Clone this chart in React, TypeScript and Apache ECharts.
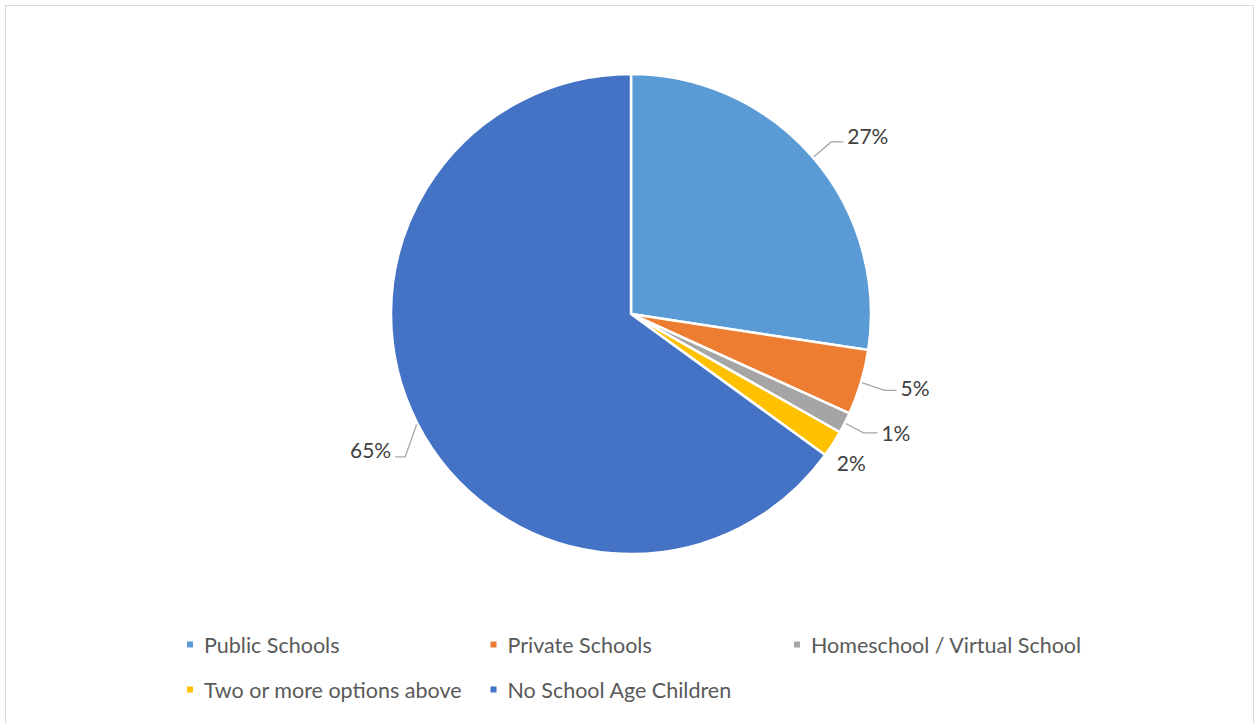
import React, { useEffect, useRef } from "react";
import * as echarts from "echarts";

const categories = [
  "Public Schools",
  "Private Schools",
  "Homeschool / Virtual School",
  "Two or more options above",
  "No School Age Children",
];
const values = [27.4, 4.4, 1.4, 1.8, 65.0];
const labels = ["27%", "5%", "1%", "2%", "65%"];
const colors = ["#5B9BD5", "#ED7D31", "#A5A5A5", "#FFC000", "#4472C4"];
const lineLengths = [
  [24, 12],
  [28, 12],
  [22, 14],
  [0, 0],
  [20, 10],
];
const labelShiftY = [-6, -3, 0, 7, 0];

export default function App() {
  const ref = useRef<HTMLDivElement>(null);
  useEffect(() => {
    if (!ref.current) return;
    const chart = echarts.init(ref.current, null, { renderer: "svg" });
    chart.setOption({
      animation: false,
      backgroundColor: "#ffffff",
      color: colors,
      graphic: [
        {
          type: "rect",
          shape: { x: 5.5, y: 5.5, width: 1248, height: 740 },
          style: { fill: "none", stroke: "#D9D9D9", lineWidth: 1 },
          silent: true,
        },
      ],
      legend: {
        left: 185,
        top: 622,
        width: 935,
        padding: 0,
        itemWidth: 8,
        itemHeight: 8,
        itemGap: 0,
        icon: "rect",
        data: categories,
        textStyle: {
          fontFamily: "Lato",
          fontSize: 21.5,
          color: "#595959",
          width: 284.5,
          lineHeight: 45,
          padding: [0, 0, 0, 5],
        },
      },
      series: [
        {
          type: "pie",
          center: [631, 314],
          radius: [0, 240],
          startAngle: 90,
          clockwise: true,
          avoidLabelOverlap: true,
          itemStyle: { borderColor: "#ffffff", borderWidth: 2.5 },
          label: {
            show: true,
            position: "outside",
            fontFamily: "Lato",
            fontSize: 21,
            color: "#404040",
            formatter: (p: any) => labels[p.dataIndex],
            distanceToLabelLine: 4,
          },
          labelLine: {
            show: true,
            lineStyle: { color: "#A6A6A6", width: 1.3 },
          },
          labelLayout: (params: any) => {
            const i = params.dataIndex;
            const pts = params.labelLinePoints;
            if (i === 3 || !pts) return { dy: labelShiftY[i] };
            if (i === 4) {
              const p0 = pts[0];
              const p1 = [p0[0] - 12, p0[1] + 34];
              const p2 = [p1[0] - 10, p1[1]];
              return {
                dx: p2[0] - pts[2][0],
                dy: p1[1] - pts[2][1] - 7,
                labelLinePoints: [p0, p1, p2],
              };
            }
            return {
              dy: labelShiftY[i],
              labelLinePoints: pts,
            };
          },
          data: categories.map((name, i) => ({
            name,
            value: values[i],
            labelLine: {
              show: i !== 3,
              length: lineLengths[i][0],
              length2: lineLengths[i][1],
            },
          })),
        },
      ],
    });
    return () => chart.dispose();
  }, []);
  return (
    <div
      ref={ref}
      style={{ position: "fixed", left: 0, top: 0, width: 1255, height: 723 }}
    />
  );
}
